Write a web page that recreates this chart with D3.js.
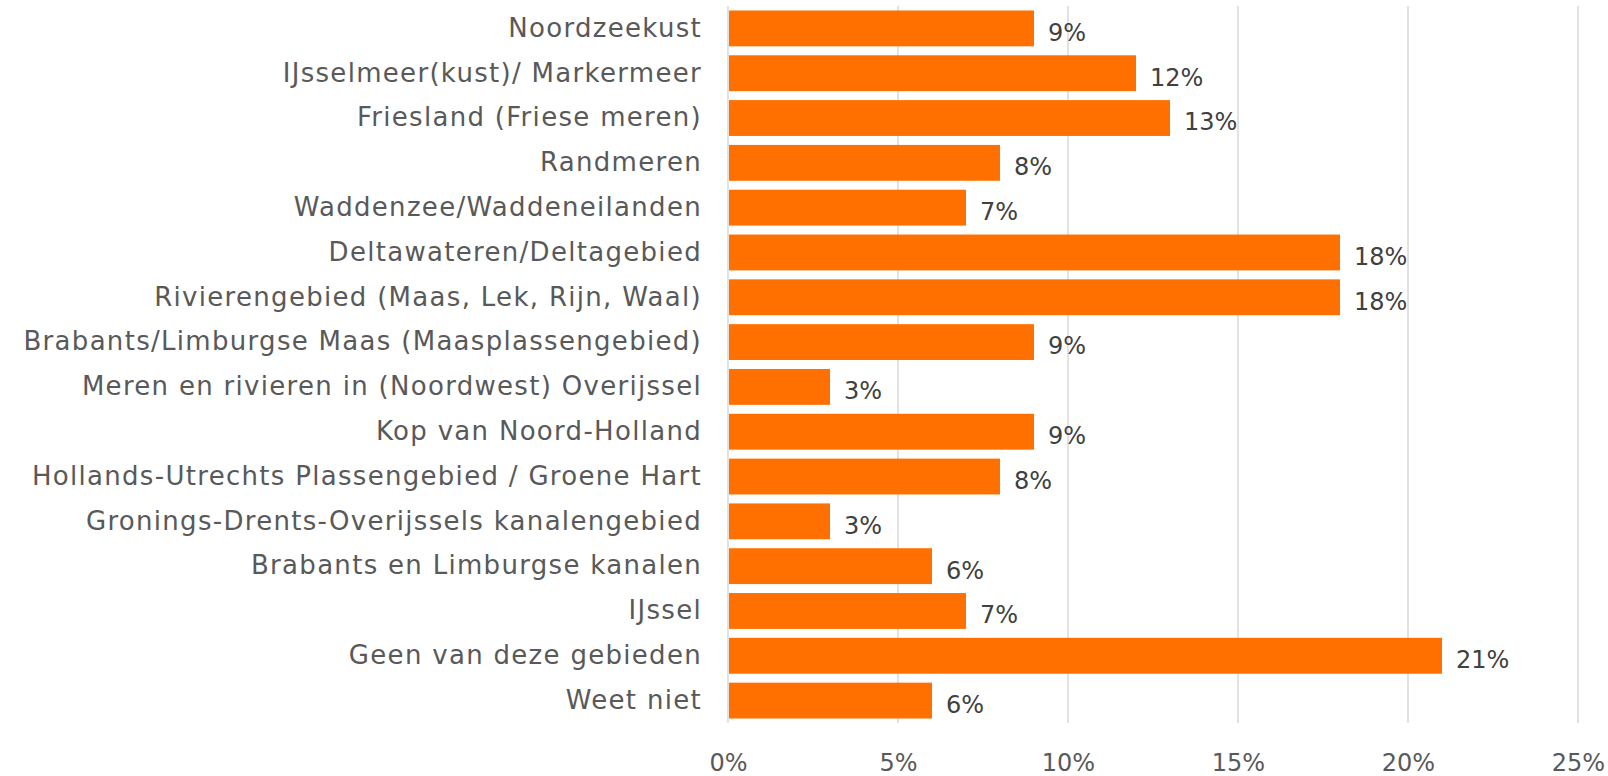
<!DOCTYPE html>
<html lang="nl">
<head>
<meta charset="utf-8">
<title>Gebieden</title>
<script src="https://cdn.jsdelivr.net/npm/d3@7"></script>
<style>
  body { margin: 0; background: #fff; }
  .cat text { font-family: "DejaVu Sans", sans-serif; font-size: 26px; letter-spacing: 1.3px; fill: #595959; }
  .xas text { font-family: "DejaVu Sans", sans-serif; font-size: 24px; fill: #595959; }
  .val { font-family: "DejaVu Sans", sans-serif; font-size: 24px; fill: #404040; }
</style>
</head>
<body>
<div id="chart"></div>
<script>
var categories = [
  "Noordzeekust",
  "IJsselmeer(kust)/ Markermeer",
  "Friesland (Friese meren)",
  "Randmeren",
  "Waddenzee/Waddeneilanden",
  "Deltawateren/Deltagebied",
  "Rivierengebied (Maas, Lek, Rijn, Waal)",
  "Brabants/Limburgse Maas (Maasplassengebied)",
  "Meren en rivieren in (Noordwest) Overijssel",
  "Kop van Noord-Holland",
  "Hollands-Utrechts Plassengebied / Groene Hart",
  "Gronings-Drents-Overijssels kanalengebied",
  "Brabants en Limburgse kanalen",
  "IJssel",
  "Geen van deze gebieden",
  "Weet niet"
];
var values = [9, 12, 13, 8, 7, 18, 18, 9, 3, 9, 8, 3, 6, 7, 21, 6];
var ticks = [0, 5, 10, 15, 20, 25];

var width = 1608, height = 776;
var mLeft = 728, mRight = 1578, mTop = 6, mBottom = 723;

var svg = d3.select("#chart").append("svg")
    .attr("width", width)
    .attr("height", height);

var x = d3.scaleLinear().domain([0, 25]).range([mLeft, mRight]);
var y = d3.scaleBand().domain(categories).range([mTop, mBottom]).paddingInner(0.2).paddingOuter(0.1);

// gridlines
svg.append("g").selectAll("line")
    .data(ticks)
  .enter().append("line")
    .attr("x1", function(d) { return x(d); })
    .attr("x2", function(d) { return x(d); })
    .attr("y1", mTop)
    .attr("y2", mBottom)
    .attr("stroke", "#d9d9d9")
    .attr("stroke-width", 1.5);

// bars
svg.append("g").selectAll("rect")
    .data(values)
  .enter().append("rect")
    .attr("x", x(0) + 1)
    .attr("y", function(d, i) { return y(categories[i]); })
    .attr("width", function(d) { return x(d) - x(0) - 1; })
    .attr("height", y.bandwidth())
    .attr("fill", "#ff7000");

// value labels
svg.append("g").selectAll("text")
    .data(values)
  .enter().append("text")
    .attr("class", "val")
    .attr("x", function(d) { return x(d) + 14; })
    .attr("y", function(d, i) { return y(categories[i]) + y.bandwidth() / 2 + 4; })
    .attr("dy", "0.35em")
    .text(function(d) { return d + "%"; });

// category axis
var yAxis = svg.append("g")
    .attr("class", "cat")
    .attr("transform", "translate(" + (mLeft - 26) + ",0)")
    .call(d3.axisLeft(y).tickSize(0).tickPadding(0));
yAxis.select(".domain").remove();

// x axis
var xAxis = svg.append("g")
    .attr("class", "xas")
    .attr("transform", "translate(0," + mBottom + ")")
    .call(d3.axisBottom(x).tickValues(ticks).tickSize(0).tickPadding(31)
      .tickFormat(function(d) { return d + "%"; }));
xAxis.select(".domain").remove();
</script>
</body>
</html>
